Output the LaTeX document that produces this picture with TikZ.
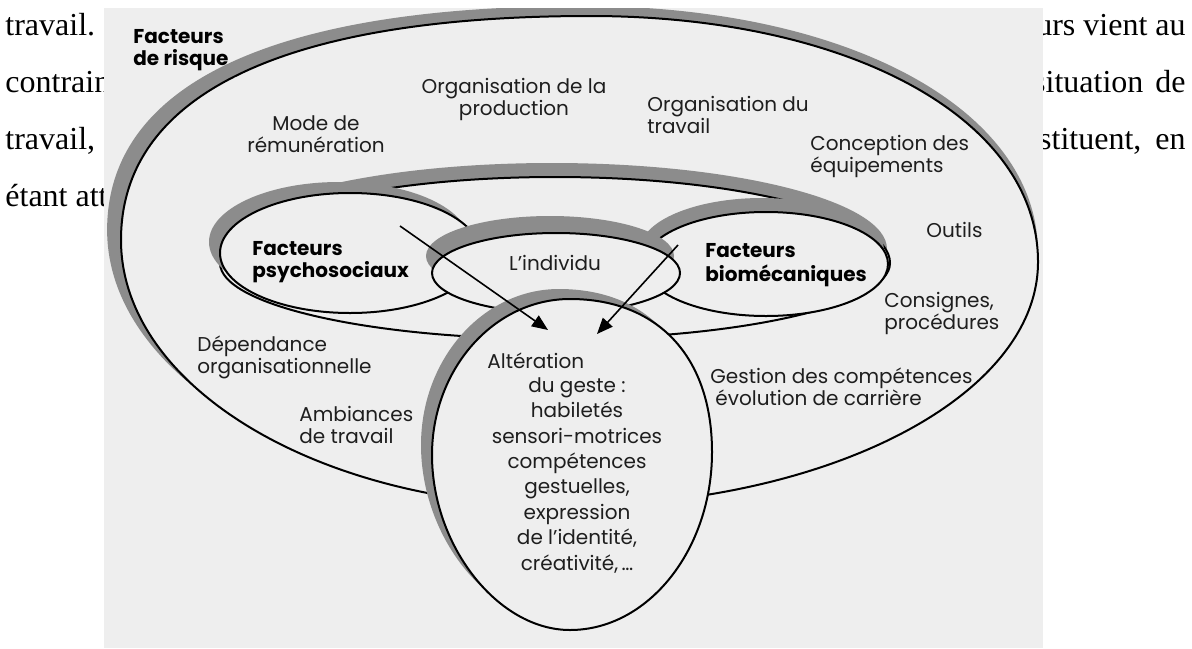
\documentclass[tikz,border=0pt]{standalone}
\usepackage{fontspec}
\setmainfont{Poppins}
\newfontfamily\tms{Liberation Serif}
\usetikzlibrary{arrows.meta}
\definecolor{paper}{HTML}{EEEEEE}
\definecolor{shade}{HTML}{8C8C8C}
\definecolor{ink}{HTML}{1E1E1E}
\tikzset{
  lbl/.style={inner sep=0pt, text=ink, font=\fontsize{10}{11}\selectfont},
  blbl/.style={inner sep=0pt, text=black, font=\fontsize{10}{11}\selectfont\bfseries},
  pagetxt/.style={inner sep=0pt, text=black, font=\tms\fontsize{16}{16}\selectfont},
  outline/.style={draw=black, line width=1pt, fill=paper},
  shadow/.style={fill=shade, draw=none},
  arr/.style={line width=0.8pt, -{Triangle[length=8pt,width=6.5pt]}},
}
\newcommand\outerpath{(121,240) .. controls (121,94) and (285,16) .. (590,16)
 .. controls (850,16) and (1038,119) .. (1038,262)
 .. controls (1038,397) and (826,506) .. (565,506)
 .. controls (320,506) and (121,387) .. (121,240) -- cycle}
\newcommand\midpath{(220,263) arc[start angle=180,end angle=360,x radius=335,y radius=86]
 arc[start angle=0,end angle=180,x radius=335,y radius=76] -- cycle}
\newcommand\psypath{(350,253) ellipse[x radius=130,y radius=60]}
\newcommand\biopath{(766,264) ellipse[x radius=122,y radius=52]}
\newcommand\indpath{(556,273) ellipse[x radius=124,y radius=40]}
\newcommand\altpath{(432,455) .. controls (432,369) and (494,299) .. (570,299)
 .. controls (658,299) and (712,357) .. (712,452)
 .. controls (712,550) and (648,630) .. (570,630)
 .. controls (498,630) and (432,546) .. (432,455) -- cycle}
\begin{document}
\begin{tikzpicture}[x=0.5pt,y=-0.5pt]
\useasboundingbox (0,0) rectangle (1192,648);
\fill[white] (0,0) rectangle (1192,648);
% page text around the figure
\node[pagetxt, anchor=base west] (t1) at (5,35) {travail.};
\node[pagetxt, anchor=base west] (t2) at (5,92) {contrain};
\node[pagetxt, anchor=base west] (t3) at (5,149) {travail,};
\node[pagetxt, anchor=base west] (t4) at (5,206) {étant att};
\node[pagetxt, anchor=base east] (t5) at (1186,35) {urs vient au};
\node[pagetxt, anchor=base east] (t6) at (1186,92) {situation\hspace{6pt}de};
\node[pagetxt, anchor=base east] (t7) at (1186,149) {stituent,\hspace{7pt}en};
% figure background
\fill[paper] (104,8) rectangle (1043,648);
\begin{scope}
\clip (104,8) rectangle (1043,648);
% outer
\fill[shadow, shift={(-7,-10)}, shift={(580,260)}, xscale=1.015, shift={(-580,-260)}] \outerpath;
\draw[outline] \outerpath;
% middle
\fill[shadow, shift={(-3,-14)}] \midpath;
\draw[outline] \midpath;
% psychosocial
\fill[shadow, shift={(-11,-11)}] \psypath;
\draw[outline] \psypath;
% biomecanique
\fill[shadow, shift={(-4,-14)}] \biopath;
\draw[outline] \biopath;
% individu
\fill[shadow, shift={(-6,-17)}] \indpath;
\draw[outline] \indpath;
% alteration
\fill[shadow, shift={(-11,-10)}] \altpath;
\draw[outline] \altpath;
\end{scope}
% arrows
\coordinate (a1s) at (400,226);
\coordinate (a1e) at (548,330);
\coordinate (a2s) at (678,245);
\coordinate (a2e) at (597,334);
\draw[arr] (a1s) -- (a1e);
\draw[arr] (a2s) -- (a2e);
% labels (anchor = baseline of the last line)
\node[blbl, anchor=base west, align=left] (risk) at (133,65) {Facteurs\\de risque};
\node[lbl, anchor=base, align=center] (orgprod) at (514,115) {Organisation de la\\production};
\node[lbl, anchor=base, align=center] (mode) at (316,152) {Mode de\\rémunération};
\node[lbl, anchor=base west, align=left] (orgtrav) at (647,133) {Organisation du\\travail};
\node[lbl, anchor=base west, align=left] (concep) at (810,172) {Conception des\\équipements};
\node[lbl, anchor=base west] (outils) at (926,237) {Outils};
\node[blbl, anchor=base west, align=left] (psy) at (252,277) {Facteurs\\psychosociaux};
\node[lbl, anchor=base] (indiv) at (555,270) {L’individu};
\node[blbl, anchor=base west, align=left, font=\fontsize{10}{12}\selectfont\bfseries] (bio) at (705,281) {Facteurs\\biomécaniques};
\node[lbl, anchor=base west, align=left] (consignes) at (884,329) {Consignes,\\procédures};
\node[lbl, anchor=base west, align=left] (dep) at (197,373) {Dépendance\\organisationnelle};
\node[lbl, anchor=base west, align=left] (amb) at (299,443) {Ambiances\\de travail};
\node[lbl, anchor=base west, align=left] (gestion) at (710,405) {Gestion des compétences\\\hspace*{2.5pt}évolution de carrière};
\node[lbl, anchor=base west] (alt1) at (487,368) {Altération};
\node[lbl, anchor=base, align=center, font=\fontsize{10}{12.7}\selectfont] (alt2) at (577,570) {du geste :\\habiletés\\sensori-motrices\\compétences\\gestuelles,\\expression\\de l’identité,\\créativité,\,\ldots};
\end{tikzpicture}
\end{document}
